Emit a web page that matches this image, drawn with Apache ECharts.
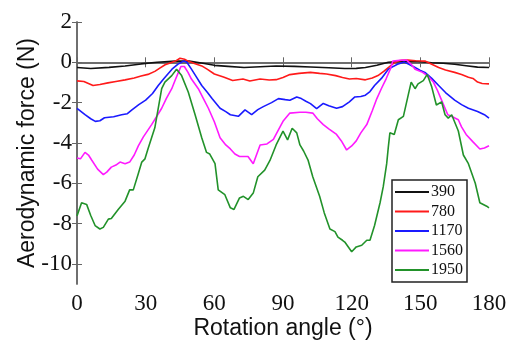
<!DOCTYPE html>
<html><head><meta charset="utf-8">
<script src="https://cdn.jsdelivr.net/npm/echarts@6/dist/echarts.min.js"></script>
<style>html,body{margin:0;padding:0;background:#fff}#c{width:513px;height:345px}</style>
</head><body><div id="c"></div>
<script>
const seriesNames = ['390', '780', '1170', '1560', '1950'];
const xTicks = [0, 30, 60, 90, 120, 150, 180];
const yTicks = [2, 0, -2, -4, -6, -8, -10];

const s390 = [[0,-0.26],[6,-0.31],[14,-0.25],[21,-0.18],[28,-0.08],[35,0.0],[43,0.06],[49,0.06],[55,-0.05],[60,-0.15],[66,-0.2],[73,-0.26],[80,-0.22],[87,-0.18],[95,-0.2],[102,-0.23],[110,-0.27],[117,-0.31],[122,-0.3],[126,-0.26],[131,-0.15],[136,0.0],[143,0.06],[149,0.04],[155,-0.02],[160,-0.05],[165,-0.1],[170,-0.17],[175,-0.24],[180,-0.26]];
const s780 = [[0,-0.92],[3,-0.95],[7,-1.15],[10,-1.1],[13.5,-1.02],[17,-0.95],[21,-0.87],[25,-0.78],[28,-0.68],[31,-0.6],[34,-0.45],[36,-0.3],[38.5,-0.12],[41,-0.02],[43,0.06],[45,0.2],[47,0.15],[48.5,0.06],[51,-0.05],[54.5,-0.18],[57,-0.35],[60,-0.58],[64,-0.73],[68,-0.9],[72.5,-0.83],[75.5,-0.93],[80,-0.83],[84,-0.88],[87,-0.86],[90,-0.75],[93,-0.61],[97,-0.55],[102,-0.5],[106,-0.55],[109,-0.58],[113,-0.66],[116,-0.75],[119,-0.83],[122,-0.8],[126,-0.87],[129,-0.78],[131.5,-0.66],[134,-0.45],[136,-0.26],[138,-0.08],[140,0.06],[142,0.1],[144.5,0.11],[148,0.08],[152,0.06],[155,-0.1],[158,-0.26],[161,-0.38],[165,-0.5],[168,-0.6],[171,-0.74],[173,-0.8],[175,-0.98],[177,-1.05],[180,-1.07]];
const s1170 = [[0,-2.28],[3.5,-2.6],[6,-2.8],[8,-2.93],[10,-2.9],[12,-2.75],[16,-2.7],[19.5,-2.6],[22,-2.55],[24,-2.36],[27,-2.1],[30,-1.88],[33,-1.55],[35.5,-1.15],[38,-0.8],[41.5,-0.34],[44,-0.1],[46.5,0.06],[48,0.0],[50,-0.34],[52,-0.7],[54.5,-1.15],[57,-1.5],[59,-1.8],[62.5,-2.28],[65,-2.45],[67,-2.6],[70.5,-2.68],[73.4,-2.36],[76.3,-2.6],[79,-2.35],[81.4,-2.2],[85,-2.0],[88,-1.8],[91,-1.85],[93,-1.88],[96,-1.72],[98,-1.8],[100,-1.93],[102,-2.05],[104.7,-2.3],[107.6,-2.04],[110,-2.15],[113.4,-2.28],[116,-2.2],[119,-1.96],[121.4,-1.72],[124,-1.7],[126,-1.63],[128,-1.45],[130,-1.15],[133,-0.8],[136,-0.34],[140,-0.1],[143,0.01],[145,-0.1],[147.7,-0.26],[150,-0.4],[152,-0.5],[155,-0.8],[158,-1.15],[161,-1.5],[165,-1.88],[168,-2.1],[171,-2.28],[175,-2.44],[178,-2.6],[180,-2.77]];
const s1560 = [[0,-4.75],[1.5,-4.79],[3.5,-4.47],[5,-4.6],[6.4,-4.85],[9,-5.3],[11.5,-5.57],[13,-5.45],[15,-5.2],[17,-5.1],[18.8,-4.95],[21,-5.03],[23,-4.95],[25,-4.6],[26.8,-4.15],[29,-3.7],[32.6,-3.09],[35,-2.65],[37,-2.28],[39,-1.8],[41.4,-1.31],[43,-0.85],[44.3,-0.5],[45.4,-0.21],[46.9,-0.21],[48.5,-0.5],[50,-0.83],[53,-1.31],[55,-1.75],[57.4,-2.28],[60,-2.95],[62.5,-3.74],[65,-4.1],[67,-4.3],[69,-4.55],[71,-4.67],[74.7,-4.67],[77,-5.03],[80,-4.1],[83,-4.05],[85.8,-3.82],[88,-3.35],[90,-2.93],[93,-2.52],[97.4,-2.48],[100,-2.48],[103,-2.52],[105,-2.8],[107.6,-3.09],[110,-3.3],[113.4,-3.58],[115.5,-3.9],[117.8,-4.35],[120,-4.15],[122,-3.9],[124,-3.5],[126.6,-3.09],[129,-2.4],[131,-1.8],[133,-1.3],[135,-0.83],[137,-0.3],[138,0.06],[141,0.1],[144,0.11],[146,-0.1],[147.7,-0.34],[151,-0.5],[153.5,-0.7],[155.7,-0.98],[157.5,-1.4],[159,-1.8],[162,-2.6],[164,-2.7],[166.6,-2.85],[168,-3.2],[170,-3.58],[173,-3.95],[176,-4.3],[178,-4.25],[180,-4.14]];
const s1950 = [[0,-7.62],[2,-6.97],[4.2,-7.05],[6,-7.6],[7.9,-8.1],[10,-8.27],[11.5,-8.19],[13.7,-7.78],[15,-7.75],[18,-7.3],[21,-6.89],[23,-6.33],[24.6,-6.33],[26.8,-5.52],[28.3,-4.95],[29.7,-4.79],[31,-4.3],[34,-3.25],[37,-1.31],[38.4,-0.98],[41.4,-0.66],[43.5,-0.34],[45.7,-0.66],[48.6,-1.47],[51.6,-2.6],[54.5,-3.74],[56.6,-4.47],[58,-4.55],[60.3,-5.03],[61.7,-6.33],[64.6,-6.57],[67,-7.22],[68.6,-7.3],[71,-6.73],[72.7,-6.65],[74.8,-6.81],[77,-6.49],[79,-5.68],[82,-5.35],[84.3,-4.87],[87,-4.1],[90,-3.41],[92,-3.85],[94,-3.27],[96,-3.5],[97.4,-4.1],[99,-4.4],[101,-4.87],[103,-5.68],[106,-6.65],[108,-7.46],[110.5,-8.27],[112.7,-8.4],[114,-8.67],[116,-8.83],[117,-8.92],[120,-9.4],[122,-9.16],[124.4,-9.08],[126.6,-8.83],[128,-8.83],[130,-8.1],[132.4,-6.97],[133.8,-6.17],[135.3,-5.03],[136,-4.22],[136.7,-3.5],[138.6,-3.58],[140.4,-2.85],[142.6,-2.68],[144.7,-1.63],[146,-0.98],[147.7,-1.31],[149,-1.07],[151.3,-0.91],[153,-0.6],[155,-1.23],[157,-2.12],[159.3,-1.96],[160.8,-2.6],[162.2,-2.77],[163.7,-2.6],[166.6,-3.41],[168.8,-4.6],[171,-5.03],[174,-6.0],[176,-6.97],[179,-7.14],[180,-7.22]];

const seriesData = [s390, s780, s1170, s1560, s1950];
const colors = ['#111111', '#ff1a1a', '#1a1aff', '#ff1aff', '#22922a'];

const chart = echarts.init(document.getElementById('c'), null, {renderer: 'canvas'});
const axisCol = '#666';
const serif = '"Liberation Serif", "DejaVu Serif", serif';
const sans = '"Liberation Sans", Arial, sans-serif';

chart.setOption({
  animation: false,
  backgroundColor: '#fff',
  grid: {left: 77, right: 24, top: 22, bottom: 56, containLabel: false},
  legend: {
    data: seriesNames,
    orient: 'vertical',
    left: 392, top: 180,
    icon: 'rect',
    itemWidth: 34, itemHeight: 2,
    itemGap: 3.5,
    padding: [4, 4, 4, 3],
    borderColor: '#222', borderWidth: 1.5,
    backgroundColor: '#fff',
    textStyle: {fontFamily: serif, fontSize: 16, color: '#111', lineHeight: 16, padding: [0, 0, 0, -3]}
  },
  xAxis: [{
    type: 'value', min: 0, max: 180, interval: 30,
    name: 'Rotation angle (°)', nameLocation: 'middle', nameGap: 33, nameMoveOverlap: false,
    nameTextStyle: {fontFamily: sans, fontSize: 23, color: '#111'},
    axisLine: {show: true, lineStyle: {color: axisCol, width: 1.5}},
    axisTick: {show: true, inside: true, length: 5, lineStyle: {color: axisCol}},
    axisLabel: {fontFamily: serif, fontSize: 23, color: '#111', margin: 8,
      customValues: xTicks},
    splitLine: {show: false}
  }, {
    type: 'value', min: 0, max: 180, interval: 30, position: 'top',
    axisLine: {show: true, lineStyle: {color: axisCol, width: 1.5}},
    axisTick: {show: true, inside: true, length: 5, lineStyle: {color: axisCol}},
    axisLabel: {show: false}, splitLine: {show: false}
  }],
  yAxis: [{
    type: 'value', min: -11, max: 2,
    name: 'Aerodynamic force (N)', nameLocation: 'middle', nameGap: 38, nameMoveOverlap: false,
    nameTextStyle: {fontFamily: sans, fontSize: 23, color: '#111'},
    axisLine: {show: true, lineStyle: {color: axisCol, width: 1.5}},
    axisTick: {show: true, inside: true, length: 5, lineStyle: {color: axisCol}, customValues: yTicks},
    axisLabel: {fontFamily: serif, fontSize: 23, color: '#111', margin: 5, customValues: yTicks},
    splitLine: {show: false}
  }, {
    type: 'value', min: -11, max: 2, position: 'right',
    axisLine: {show: true, lineStyle: {color: axisCol, width: 1.5}},
    axisTick: {show: true, inside: true, length: 5, lineStyle: {color: axisCol}, customValues: yTicks},
    axisLabel: {show: false}, splitLine: {show: false}
  }],
  series: seriesNames.map((n, i) => ({
    name: n, type: 'line', data: seriesData[i],
    xAxisIndex: 0, yAxisIndex: 0,
    symbol: 'none', smooth: false,
    lineStyle: {color: colors[i], width: 1.6},
    itemStyle: {color: colors[i]},
    z: 2 + i
  }))
});
</script></body></html>
